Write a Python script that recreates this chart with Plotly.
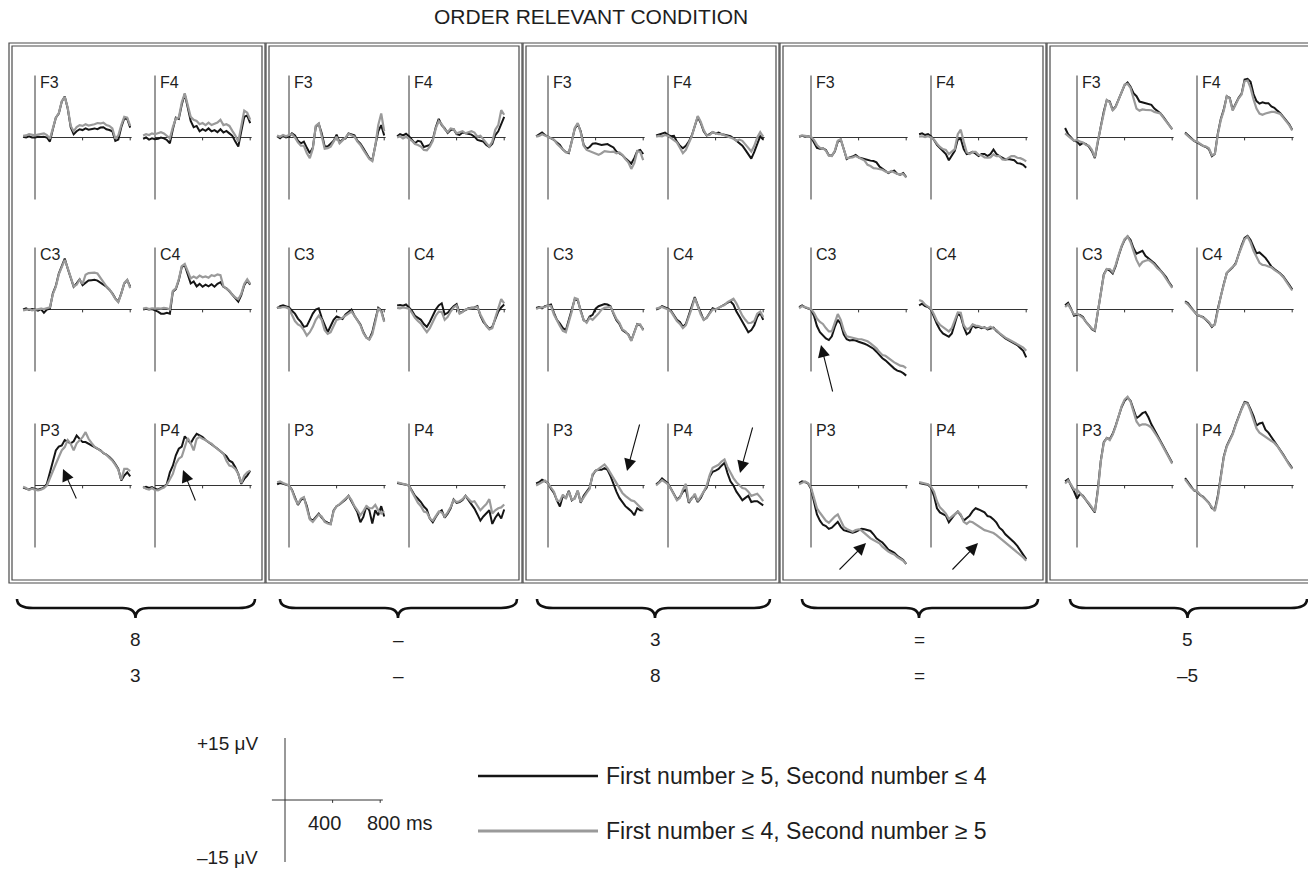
import plotly.graph_objects as go

# ---------------- data (µV) ----------------
TIMES = [-100, -75, -50, -25, 0, 25, 50, 75, 100, 125, 150, 175, 200, 225, 250, 275, 300,
         325, 350, 375, 400, 425, 450, 475, 500, 525, 550, 575, 600, 625, 650, 675, 700,
         725, 750, 775, 800]

ELECTRODES = [["F3", "F4"], ["C3", "C4"], ["P3", "P4"]]
COND_TOP = ["8", "\u2013", "3", "=", "5"]
COND_BOTTOM = ["3", "\u2013", "8", "=", "\u20135"]
TITLE = "ORDER RELEVANT CONDITION"
LEGEND_BLACK = "First number \u2265 5, Second number \u2264 4"
LEGEND_GRAY = "First number \u2264 4, Second number \u2265 5"

# panel 1 : 8 / 3
P1_F3_BLACK = [0.2, 0.0, 0.3, 0.0, 0.0, 0.2, 0.1, 0.2, 0.0, -1.0, 2.0, 4.8, 5.8, 8.7, 9.9, 7.0, 2.5, 0.8, 1.5, 2.0, 1.8, 2.2, 1.9, 2.0, 2.2, 2.0, 2.4, 2.5, 2.0, 1.8, 1.5, -0.8, -0.5, 2.5, 4.6, 4.5, 2.4]
P1_F3_GRAY = [0.4, 0.5, 0.8, 0.6, 0.5, 0.7, 0.8, 1.0, 0.6, -0.3, 2.2, 4.8, 5.9, 8.8, 9.8, 7.2, 2.8, 1.5, 2.5, 3.0, 2.8, 3.2, 2.9, 3.0, 3.2, 3.5, 3.4, 3.6, 3.0, 2.8, 2.2, -0.3, 0.5, 3.0, 5.0, 4.8, 2.8]
P1_F4_BLACK = [-0.3, 0.0, -0.5, -0.2, -0.4, -0.3, 0.0, -0.2, -0.6, -1.4, 2.0, 4.8, 4.5, 8.0, 10.5, 7.0, 4.0, 2.5, 2.8, 1.5, 2.0, 1.6, 2.2, 1.5, 1.8, 1.3, 2.0, 1.2, 1.6, 1.0, 0.4, -1.0, -2.2, 1.5, 5.0, 5.3, 3.5]
P1_F4_GRAY = [0.5, 0.8, 0.6, 1.0, 0.8, 1.0, 1.3, 1.0, 0.5, -0.2, 2.5, 4.6, 4.8, 8.5, 10.7, 7.5, 5.0, 4.3, 4.0, 3.2, 3.5, 3.0, 3.6, 3.0, 3.3, 3.6, 4.3, 3.0, 3.2, 2.8, 1.6, 0.5, -1.0, 2.5, 6.5, 6.0, 4.3]
P1_C3_BLACK = [0.0, 0.3, -0.1, 0.1, 0.0, -0.3, 0.1, -0.8, 0.0, 0.2, 3.9, 5.7, 8.7, 10.7, 12.3, 9.9, 7.5, 5.5, 6.3, 7.3, 5.9, 6.5, 7.0, 7.1, 7.2, 7.0, 6.5, 6.1, 5.5, 4.8, 3.9, 2.7, 1.9, 3.9, 6.3, 7.1, 5.5]
P1_C3_GRAY = [-0.2, -0.1, 0.1, -0.2, -0.1, 0.0, 0.2, 0.1, 0.3, 0.5, 3.7, 5.5, 8.5, 10.5, 12.0, 10.0, 7.6, 5.6, 6.0, 7.2, 6.2, 8.4, 8.8, 8.9, 8.9, 8.7, 7.5, 6.6, 5.6, 4.9, 3.8, 2.6, 1.8, 3.8, 6.4, 7.2, 5.2]
P1_C4_BLACK = [0.0, 0.2, 0.0, 0.1, -0.2, -0.5, -1.0, -1.0, -0.8, -1.0, 4.3, 4.9, 7.1, 10.3, 10.7, 8.7, 6.3, 6.8, 5.6, 6.2, 5.5, 6.0, 5.6, 6.1, 5.5, 6.2, 6.6, 5.5, 5.1, 4.4, 3.5, 2.7, 1.9, 3.5, 5.9, 7.0, 6.0]
P1_C4_GRAY = [0.2, 0.4, 0.1, 0.3, 0.2, 0.3, 0.2, 0.4, 0.3, 0.0, 4.5, 5.1, 7.3, 10.5, 11.0, 9.0, 7.5, 8.0, 7.6, 8.2, 7.8, 8.0, 7.7, 8.3, 8.1, 8.5, 8.3, 5.6, 5.1, 4.5, 3.6, 2.9, 2.5, 3.8, 6.2, 7.3, 6.2]
P1_P3_BLACK = [-0.5, -0.8, -1.0, -0.6, -0.8, -1.0, -0.8, -0.5, 0.4, 3.2, 5.6, 8.5, 9.4, 9.7, 11.0, 10.5, 10.2, 10.7, 12.1, 11.3, 10.5, 10.5, 10.1, 9.8, 9.4, 8.9, 8.5, 7.8, 7.5, 6.9, 6.2, 5.2, 4.0, 1.2, 2.4, 3.2, 2.2]
P1_P3_GRAY = [-0.3, -0.6, -1.1, -0.8, -1.0, -1.2, -1.0, -0.7, 0.0, 1.6, 3.2, 5.2, 6.9, 8.5, 9.3, 11.0, 10.1, 8.5, 10.2, 11.0, 11.7, 12.9, 11.3, 10.3, 9.4, 8.9, 8.5, 7.9, 7.4, 6.8, 6.0, 5.0, 3.8, 1.4, 4.0, 4.0, 3.5]
P1_P4_BLACK = [-0.5, -0.3, -0.6, -0.4, -0.8, -1.0, -0.6, -0.3, 0.4, 3.2, 4.8, 7.3, 8.9, 9.4, 11.9, 11.0, 10.2, 11.5, 12.5, 12.1, 11.7, 11.0, 10.5, 10.1, 9.4, 8.9, 8.3, 7.7, 7.1, 6.0, 5.6, 4.4, 2.8, 0.4, 1.6, 2.4, 3.6]
P1_P4_GRAY = [-0.3, -0.8, -1.0, -0.6, -1.1, -1.2, -0.8, -0.5, 0.2, 1.6, 2.8, 5.2, 6.5, 7.0, 9.3, 11.5, 10.2, 8.5, 11.3, 11.8, 11.3, 11.0, 10.5, 10.1, 9.4, 8.9, 8.3, 7.7, 6.0, 4.8, 4.6, 4.0, 2.8, 0.6, 2.4, 3.2, 3.6]

# panel 2 : - / -
P2_F3_BLACK = [0.3, -0.2, 0.4, 0.0, 0.2, 1.0, 0.5, -0.8, -1.4, -1.0, -2.5, -3.8, -2.5, 2.6, 3.3, 1.0, -2.2, -2.2, -1.5, -0.8, 0.7, -1.2, -0.5, -0.2, 1.0, 0.8, 0.5, -0.8, -1.5, -2.6, -3.8, -5.0, -5.5, -1.5, 1.5, 3.0, 0.5]
P2_F3_GRAY = [0.5, 0.2, 0.6, 0.3, 0.6, 0.8, 0.0, -1.2, -2.0, -2.0, -3.8, -5.0, -2.7, 2.8, 3.4, 0.5, -2.7, -2.6, -2.2, -1.0, 0.2, -1.4, -0.8, 0.0, 0.9, 0.6, 0.2, -1.0, -1.8, -3.0, -4.0, -5.2, -5.7, -2.0, 3.0, 5.8, 1.5]
P2_F4_BLACK = [0.3, 0.8, 0.5, 0.9, 0.3, -0.5, -1.4, -0.8, -1.0, -2.3, -2.0, -1.8, -0.5, 2.5, 4.5, 3.0, 2.2, 1.1, 1.8, 2.0, 0.8, 0.6, 1.2, 1.0, 0.8, 0.7, 0.2, -0.6, -0.8, -1.0, -1.8, -2.3, -1.5, 0.6, 1.5, 3.5, 5.0]
P2_F4_GRAY = [0.0, 0.3, -0.2, 0.2, -0.3, -0.8, -1.6, -1.8, -2.2, -3.0, -3.1, -2.2, -0.8, 2.2, 4.0, 3.2, 2.0, 1.3, 2.2, 2.0, 1.0, 1.2, 1.5, 1.0, 1.3, 1.5, 1.2, 0.2, 0.4, -0.5, -1.5, -2.2, -1.0, 1.9, 3.0, 6.6, 5.5]
P2_C3_BLACK = [0.3, 0.8, 1.0, 0.8, 0.5, -0.3, -1.0, -2.2, -3.0, -4.2, -4.0, -2.5, -1.0, 0.0, 0.3, -2.0, -4.0, -5.5, -4.0, -2.5, -1.7, -2.0, -2.3, -1.2, -0.5, 0.0, -1.5, -2.5, -3.6, -5.5, -6.8, -7.2, -5.5, -2.5, 0.4, -0.2, -2.8]
P2_C3_GRAY = [0.5, 0.4, 0.6, 0.5, 0.2, -1.5, -2.8, -3.6, -4.0, -5.0, -6.3, -5.5, -4.2, -2.5, -1.5, -2.5, -5.0, -5.9, -5.5, -4.0, -2.5, -2.3, -2.0, -1.5, -1.0, -0.5, -1.5, -2.5, -3.8, -5.7, -6.8, -7.3, -6.0, -3.0, 0.3, -0.5, -3.0]
P2_C4_BLACK = [1.0, 1.1, 0.9, 1.2, 0.5, -0.3, -1.5, -2.0, -2.5, -3.5, -4.2, -3.0, -1.5, 0.0, 1.0, 1.5, -1.2, -0.8, 0.0, 0.8, 1.3, -0.8, -0.5, 0.0, 0.3, 0.4, 0.5, 0.8, -1.5, -3.0, -4.0, -4.7, -4.2, -2.5, -0.5, 0.5, 1.2]
P2_C4_GRAY = [0.4, 0.3, 0.5, 0.4, 0.2, -0.8, -2.0, -2.8, -3.4, -4.5, -5.5, -4.5, -2.8, -1.5, -0.5, -0.6, -2.5, -1.8, -0.5, 0.5, 1.0, -1.0, -0.6, 0.0, 0.2, 0.3, 0.5, 0.6, -1.2, -2.8, -4.0, -4.8, -4.5, -2.0, 0.5, 2.5, 1.5]
P2_P3_BLACK = [0.3, 0.6, 0.4, 0.2, 0.0, -1.0, -3.0, -4.7, -3.5, -3.0, -5.0, -8.0, -8.5, -7.6, -6.8, -7.8, -8.6, -9.0, -9.3, -6.0, -5.0, -4.6, -4.0, -3.4, -2.5, -3.8, -5.2, -6.5, -8.9, -7.6, -5.0, -6.0, -9.2, -6.0, -7.2, -5.0, -7.5]
P2_P3_GRAY = [0.8, 1.0, 0.6, 0.3, 0.0, -1.2, -3.2, -4.5, -3.2, -2.8, -5.2, -8.2, -8.8, -7.8, -7.0, -7.5, -8.8, -9.2, -9.4, -6.2, -5.0, -4.5, -3.8, -3.0, -2.5, -3.5, -5.0, -6.0, -7.2, -6.2, -5.0, -5.5, -5.5, -4.7, -6.0, -6.8, -6.2]
P2_P4_BLACK = [0.6, 0.5, 0.4, 0.2, 0.0, -1.2, -2.5, -3.2, -4.0, -5.1, -5.8, -8.0, -8.9, -7.6, -6.5, -6.0, -7.8, -6.8, -5.5, -3.4, -4.2, -4.0, -3.5, -2.5, -3.5, -4.5, -5.6, -7.0, -8.5, -7.5, -6.7, -6.0, -9.3, -7.8, -6.8, -8.0, -5.8]
P2_P4_GRAY = [0.8, 0.6, 0.5, 0.3, 0.0, -1.5, -3.0, -4.2, -5.0, -6.3, -6.5, -8.0, -8.5, -7.5, -6.3, -6.5, -7.5, -6.5, -5.2, -3.5, -4.0, -3.8, -3.3, -2.5, -3.2, -4.0, -3.8, -4.8, -6.0, -5.2, -4.5, -3.3, -6.8, -6.0, -5.5, -5.3, -4.6]

# panel 3 : 3 / 8
P3_F3_BLACK = [0.3, 0.8, 1.2, 0.6, 0.2, 0.0, -0.6, -1.2, -1.8, -2.9, -3.5, -3.8, -0.8, 2.1, 3.3, 1.5, -1.8, -2.7, -2.3, -1.5, -1.4, -1.6, -1.8, -1.7, -1.6, -2.0, -2.4, -3.4, -3.8, -4.3, -5.0, -5.6, -6.3, -5.0, -3.3, -3.0, -4.0]
P3_F3_GRAY = [0.2, 0.4, 0.8, 0.5, 0.2, -0.2, -0.5, -1.5, -2.2, -3.0, -3.6, -3.6, -1.0, 2.3, 3.5, 1.2, -2.0, -3.0, -3.3, -3.6, -3.9, -4.2, -3.8, -3.3, -3.4, -3.5, -3.4, -3.8, -3.6, -4.2, -5.2, -6.0, -7.6, -6.2, -3.3, -3.5, -5.5]
P3_F4_BLACK = [0.5, 0.7, 0.9, 1.2, 0.6, 0.3, 0.4, -1.0, -2.0, -2.6, -2.0, -1.0, 0.5, 2.5, 5.0, 3.5, 1.5, 0.5, 0.8, 1.3, 1.0, 1.2, 0.8, 0.7, 0.5, 0.3, -0.2, -0.8, -1.3, -2.0, -3.0, -4.0, -5.1, -3.5, -1.5, 0.3, -0.5]
P3_F4_GRAY = [0.2, 0.4, 0.3, 0.6, 0.4, -0.2, -0.6, -1.2, -2.5, -3.8, -3.0, -1.3, 0.3, 2.8, 5.2, 3.8, 1.8, 0.5, 0.6, 1.3, 1.1, 0.8, 0.8, 0.5, 0.2, 0.0, -0.3, -0.8, -0.5, -0.8, -1.8, -2.5, -3.4, -2.0, 0.0, 1.3, 0.2]
P3_C3_BLACK = [0.4, 0.6, 0.3, 0.8, 1.0, 1.2, -0.8, -2.5, -3.4, -4.5, -5.0, -2.5, -0.3, 2.5, 2.2, -0.5, -2.6, -3.0, -1.7, -1.3, 0.2, 0.8, 1.1, 1.3, 1.2, 0.8, -1.0, -2.6, -3.5, -5.0, -5.5, -6.0, -7.5, -5.5, -3.5, -3.8, -4.8]
P3_C3_GRAY = [0.1, 0.4, 0.5, 0.6, 1.0, 0.8, -1.2, -2.8, -4.0, -5.2, -5.5, -3.0, -0.5, 2.8, 2.5, -0.5, -2.5, -3.2, -2.0, -2.5, -1.8, -1.0, 0.0, 0.4, 0.5, 0.6, -0.8, -2.3, -3.2, -4.8, -5.3, -6.2, -7.6, -5.6, -3.6, -3.6, -5.1]
P3_C4_BLACK = [0.0, 0.3, 0.8, 0.5, 0.2, -0.3, -1.5, -2.5, -3.0, -4.2, -3.5, -1.5, 0.5, 3.0, 1.0, -1.0, -2.5, -2.0, -0.8, 0.3, 0.0, 0.4, 0.8, 1.0, 1.6, 2.0, 1.2, -0.5, -1.7, -3.0, -4.2, -5.5, -5.0, -3.8, -1.8, -0.8, -2.5]
P3_C4_GRAY = [0.2, 0.4, 0.6, 0.3, 0.0, -0.5, -1.8, -2.8, -3.5, -4.5, -3.8, -1.8, 0.3, 2.8, 0.8, -1.2, -2.5, -2.0, -1.0, 0.0, 0.0, 0.5, 0.8, 1.1, 1.8, 2.2, 2.6, 1.5, 0.0, -1.5, -2.5, -3.3, -3.2, -2.8, -1.0, -0.5, -1.8]
P3_P3_BLACK = [0.5, 0.8, 1.4, 1.0, 0.6, -0.8, -1.8, -3.6, -5.1, -2.5, -3.0, -1.3, -3.6, -3.0, -1.3, -4.2, -2.5, -1.5, -0.5, 2.5, 3.6, 3.8, 3.8, 4.2, 3.8, 2.3, 0.2, -1.5, -3.0, -4.0, -5.0, -5.6, -6.2, -7.2, -5.5, -6.0, -6.0]
P3_P3_GRAY = [0.0, 0.4, 1.0, 1.2, 0.5, -0.5, -1.5, -3.6, -3.8, -2.2, -3.2, -1.5, -3.4, -3.2, -1.2, -4.0, -2.8, -1.8, -0.8, 2.8, 3.5, 4.0, 4.5, 5.1, 4.2, 3.0, 1.8, 0.5, -0.5, -1.8, -2.5, -3.0, -3.6, -3.8, -4.5, -5.3, -6.0]
P3_P4_BLACK = [0.3, 0.8, 1.7, 1.0, 0.5, -0.8, -2.2, -3.4, -2.8, -1.5, -1.0, -4.2, -3.0, -2.4, -4.0, -3.0, -1.5, -0.5, 2.1, 3.3, 3.6, 4.0, 4.8, 5.5, 3.0, 1.0, 0.0, -1.5, -2.5, -3.6, -3.0, -2.5, -4.0, -3.8, -3.8, -4.2, -4.8]
P3_P4_GRAY = [0.0, 0.6, 1.3, 0.8, 0.3, -0.8, -2.2, -3.6, -3.0, -1.0, 0.4, -4.0, -3.2, -2.0, -3.8, -2.8, -1.5, 0.0, 2.5, 4.3, 4.6, 5.0, 5.8, 6.3, 4.5, 3.0, 1.8, 0.8, 0.0, -0.6, -0.8, -1.5, -2.5, -2.2, -2.0, -2.8, -3.8]

# panel 4 : = / =
P4_F3_BLACK = [0.2, 0.4, 0.2, 0.3, 0.1, -1.3, -2.5, -2.7, -2.6, -3.0, -4.3, -4.4, -3.4, -1.0, -0.5, -2.8, -5.2, -4.8, -4.6, -4.2, -4.8, -5.0, -5.2, -5.5, -5.6, -5.7, -6.0, -7.0, -7.5, -7.9, -8.6, -8.2, -8.0, -8.8, -9.0, -8.6, -9.6]
P4_F3_GRAY = [0.3, 0.5, 0.4, 0.3, 0.2, -0.6, -1.8, -2.5, -2.6, -3.2, -4.4, -4.5, -3.2, -0.8, -0.4, -2.8, -5.0, -4.9, -4.8, -4.5, -4.8, -5.2, -5.6, -6.6, -6.9, -7.4, -7.5, -7.6, -7.8, -8.2, -8.5, -8.1, -8.4, -8.8, -8.9, -8.8, -9.7]
P4_F4_BLACK = [0.8, 1.0, 0.6, 0.8, 0.3, -0.6, -1.8, -2.6, -3.2, -4.0, -5.5, -4.5, -3.2, -0.5, -0.3, -2.8, -4.0, -3.8, -3.5, -3.9, -4.5, -4.0, -4.0, -4.5, -4.0, -2.9, -4.0, -4.5, -5.0, -5.3, -5.2, -5.3, -5.5, -6.2, -6.3, -6.6, -7.3]
P4_F4_GRAY = [0.2, 0.3, 0.1, 0.3, 0.0, -0.5, -1.5, -2.3, -2.8, -3.0, -4.0, -3.5, -2.8, 0.8, 1.9, -1.0, -3.6, -4.0, -3.5, -3.5, -4.2, -4.3, -4.8, -4.9, -4.8, -4.1, -4.5, -4.5, -5.3, -5.4, -5.0, -4.5, -4.5, -4.9, -5.0, -5.3, -5.8]
P4_C3_BLACK = [0.6, 1.0, 0.5, 0.3, 0.0, -1.5, -4.0, -5.5, -6.2, -7.0, -7.4, -6.5, -4.2, -2.5, -3.5, -6.0, -7.2, -7.5, -7.4, -7.5, -7.8, -8.0, -8.3, -8.6, -9.0, -9.5, -10.2, -11.0, -11.8, -12.3, -13.0, -13.8, -14.3, -14.8, -15.0, -15.4, -16.0]
P4_C3_GRAY = [0.3, 0.8, 0.6, 0.4, 0.1, -0.8, -2.2, -3.0, -3.5, -4.5, -5.3, -5.3, -3.0, -1.1, -2.5, -5.0, -6.5, -6.7, -6.8, -7.0, -7.2, -7.2, -7.4, -7.7, -8.2, -8.8, -9.4, -10.3, -11.0, -11.2, -11.8, -12.3, -12.8, -13.2, -13.6, -13.7, -14.2]
P4_C4_BLACK = [1.0, 1.4, 0.8, 0.6, 0.0, -2.0, -3.5, -4.9, -5.8, -6.2, -6.6, -5.8, -3.2, -1.0, -1.6, -4.2, -6.0, -5.5, -3.8, -4.4, -4.2, -4.5, -4.3, -4.8, -4.6, -4.4, -5.2, -5.8, -6.6, -7.0, -7.4, -7.8, -8.2, -8.6, -9.3, -10.0, -11.6]
P4_C4_GRAY = [2.3, 2.0, 1.2, 0.8, 0.2, -1.2, -2.8, -3.7, -4.3, -4.8, -5.3, -4.5, -2.8, -0.7, -0.8, -3.8, -4.8, -4.5, -3.6, -3.9, -4.0, -4.3, -4.4, -4.6, -4.2, -4.6, -5.0, -5.7, -6.3, -6.8, -7.2, -7.6, -7.8, -8.2, -8.8, -9.2, -10.0]
P4_P3_BLACK = [0.6, 1.0, 0.8, 0.5, -0.8, -4.0, -7.0, -8.5, -9.5, -9.8, -10.5, -10.2, -9.6, -8.8, -10.0, -10.8, -11.0, -11.2, -11.4, -11.2, -10.9, -10.5, -10.6, -10.8, -11.0, -11.8, -12.8, -13.3, -13.8, -14.6, -15.5, -15.9, -16.3, -17.0, -17.4, -18.0, -19.0]
P4_P3_GRAY = [0.3, 0.7, 1.0, 0.6, -0.5, -3.0, -5.5, -6.6, -7.5, -8.5, -9.0, -8.2, -7.5, -7.0, -8.5, -10.0, -10.5, -10.8, -11.2, -10.8, -10.6, -10.9, -11.5, -12.3, -12.8, -13.2, -13.6, -14.0, -14.8, -15.5, -16.0, -16.4, -16.7, -17.3, -17.7, -18.2, -19.0]
P4_P4_BLACK = [0.6, 0.4, 0.3, 0.2, -0.5, -2.5, -5.5, -6.5, -7.0, -7.3, -8.9, -7.8, -7.0, -6.3, -7.2, -8.5, -8.0, -7.3, -6.2, -5.5, -5.8, -6.2, -6.5, -7.4, -7.6, -8.2, -9.0, -10.2, -10.8, -11.8, -12.4, -13.0, -13.8, -14.6, -15.7, -16.6, -17.8]
P4_P4_GRAY = [0.8, 0.6, 0.4, 0.3, -0.3, -1.5, -3.8, -5.3, -6.0, -6.8, -8.1, -7.5, -6.8, -6.3, -7.0, -8.8, -9.3, -8.7, -8.9, -9.4, -10.0, -10.3, -10.8, -11.0, -11.2, -11.5, -12.0, -12.6, -13.2, -13.6, -14.2, -14.8, -15.4, -16.2, -16.8, -17.4, -18.2]

# panel 5 : 5 / -5
P5_F3_BLACK = [2.3, 0.8, 0.0, -0.8, -1.0, -1.8, -1.3, -1.6, -2.2, -3.3, -5.0, -0.6, 2.7, 6.3, 9.0, 8.7, 6.7, 7.5, 9.1, 11.1, 12.7, 13.3, 12.3, 10.7, 10.0, 8.7, 8.5, 8.3, 8.1, 7.9, 7.0, 6.5, 5.9, 5.0, 4.0, 3.2, 2.0]
P5_F3_GRAY = [1.0, 0.5, -0.2, -0.8, -0.6, -1.0, -1.2, -1.8, -2.0, -3.0, -4.8, -0.8, 2.5, 6.2, 9.1, 8.5, 6.5, 7.4, 9.0, 11.0, 12.8, 13.0, 12.0, 9.5, 7.0, 6.5, 6.8, 6.7, 6.7, 6.6, 6.2, 6.0, 5.8, 4.8, 3.8, 3.0, 2.0]
P5_F4_BLACK = [1.2, 0.5, -0.2, -0.8, -1.2, -1.7, -2.0, -2.3, -2.8, -4.5, -4.0, 1.0, 4.5, 6.8, 10.0, 9.6, 6.7, 8.2, 9.6, 10.6, 14.0, 14.2, 13.5, 10.5, 8.8, 8.2, 8.5, 8.3, 8.3, 7.5, 7.2, 6.5, 5.9, 5.0, 4.2, 3.2, 1.9]
P5_F4_GRAY = [1.0, 0.3, -0.3, -0.8, -1.0, -1.5, -2.0, -2.2, -2.6, -4.3, -4.0, 0.7, 4.2, 6.5, 10.0, 9.4, 6.5, 8.0, 9.5, 10.4, 13.6, 13.8, 12.0, 9.2, 7.0, 5.8, 5.5, 5.8, 6.0, 6.2, 6.2, 5.9, 5.7, 4.8, 4.0, 3.0, 1.7]
P5_C3_BLACK = [1.0, 1.6, 0.2, -1.5, -1.2, -1.3, -1.8, -3.0, -3.8, -4.8, -5.2, -0.5, 3.8, 8.5, 9.8, 9.4, 8.7, 10.5, 13.0, 15.2, 16.8, 17.7, 16.8, 14.8, 13.5, 13.8, 14.2, 13.0, 12.5, 11.8, 11.2, 10.2, 9.5, 8.7, 7.8, 6.5, 5.5]
P5_C3_GRAY = [0.6, 1.2, 0.0, -1.2, -1.0, -1.4, -2.0, -3.0, -3.8, -4.6, -5.0, -0.8, 3.6, 8.3, 9.8, 9.8, 9.0, 10.8, 13.2, 15.4, 17.0, 17.7, 16.3, 14.0, 12.0, 10.6, 11.5, 11.8, 12.0, 11.5, 10.9, 10.0, 9.4, 8.5, 7.5, 6.3, 5.2]
P5_C4_BLACK = [2.0, 1.5, 0.5, -0.3, -1.3, -1.6, -1.8, -2.5, -3.2, -4.2, -3.5, 0.2, 3.5, 6.2, 8.8, 9.5, 10.2, 11.2, 13.5, 15.5, 17.3, 17.8, 16.8, 15.2, 13.6, 13.8, 13.2, 12.5, 11.5, 10.4, 9.8, 9.3, 8.7, 8.0, 7.1, 6.0, 4.9]
P5_C4_GRAY = [1.8, 1.2, 0.3, -0.5, -1.2, -1.5, -1.9, -2.4, -3.0, -4.0, -3.7, 0.0, 3.2, 6.0, 8.8, 9.6, 10.3, 11.0, 13.3, 15.3, 17.0, 17.6, 16.2, 14.2, 12.8, 11.3, 10.8, 10.7, 10.4, 10.2, 9.6, 9.1, 8.6, 7.8, 6.8, 5.8, 4.6]
P5_P3_BLACK = [1.0, 1.5, 0.0, -1.4, -3.2, -2.0, -2.5, -3.5, -4.5, -5.5, -6.5, -1.0, 6.0, 10.5, 11.5, 11.2, 12.5, 14.5, 17.0, 19.0, 20.5, 21.3, 20.5, 18.5, 16.3, 16.8, 17.5, 17.8, 16.5, 14.8, 13.5, 12.0, 10.8, 9.5, 8.2, 7.0, 5.5]
P5_P3_GRAY = [0.5, 1.2, 0.2, -1.0, -1.0, -1.8, -2.6, -3.6, -4.3, -5.3, -6.3, -1.5, 5.8, 10.3, 11.5, 11.0, 12.3, 14.3, 17.0, 19.2, 20.8, 21.5, 20.3, 18.0, 15.5, 14.5, 14.8, 14.8, 14.5, 14.0, 13.0, 11.8, 10.6, 9.3, 8.0, 6.8, 5.3]
P5_P4_BLACK = [1.8, 0.8, -0.4, -1.2, -1.5, -2.3, -2.7, -3.4, -4.2, -5.5, -5.8, -2.5, 2.8, 7.0, 9.6, 11.2, 12.6, 14.8, 16.8, 18.6, 20.2, 20.0, 18.5, 16.8, 14.5, 15.0, 15.2, 13.5, 12.8, 11.8, 10.8, 9.7, 8.6, 7.5, 6.3, 5.2, 4.2]
P5_P4_GRAY = [1.5, 0.6, -0.5, -1.1, -1.4, -2.2, -2.8, -3.5, -4.3, -5.4, -6.2, -3.0, 2.5, 6.8, 9.4, 11.0, 12.4, 14.6, 16.6, 18.4, 20.0, 19.8, 18.0, 16.0, 13.8, 12.8, 12.3, 11.8, 11.5, 11.0, 10.3, 9.5, 8.5, 7.4, 6.2, 5.0, 4.0]

PANELS = [
    {"F3": (P1_F3_BLACK, P1_F3_GRAY), "F4": (P1_F4_BLACK, P1_F4_GRAY), "C3": (P1_C3_BLACK, P1_C3_GRAY),
     "C4": (P1_C4_BLACK, P1_C4_GRAY), "P3": (P1_P3_BLACK, P1_P3_GRAY), "P4": (P1_P4_BLACK, P1_P4_GRAY)},
    {"F3": (P2_F3_BLACK, P2_F3_GRAY), "F4": (P2_F4_BLACK, P2_F4_GRAY), "C3": (P2_C3_BLACK, P2_C3_GRAY),
     "C4": (P2_C4_BLACK, P2_C4_GRAY), "P3": (P2_P3_BLACK, P2_P3_GRAY), "P4": (P2_P4_BLACK, P2_P4_GRAY)},
    {"F3": (P3_F3_BLACK, P3_F3_GRAY), "F4": (P3_F4_BLACK, P3_F4_GRAY), "C3": (P3_C3_BLACK, P3_C3_GRAY),
     "C4": (P3_C4_BLACK, P3_C4_GRAY), "P3": (P3_P3_BLACK, P3_P3_GRAY), "P4": (P3_P4_BLACK, P3_P4_GRAY)},
    {"F3": (P4_F3_BLACK, P4_F3_GRAY), "F4": (P4_F4_BLACK, P4_F4_GRAY), "C3": (P4_C3_BLACK, P4_C3_GRAY),
     "C4": (P4_C4_BLACK, P4_C4_GRAY), "P3": (P4_P3_BLACK, P4_P3_GRAY), "P4": (P4_P4_BLACK, P4_P4_GRAY)},
    {"F3": (P5_F3_BLACK, P5_F3_GRAY), "F4": (P5_F4_BLACK, P5_F4_GRAY), "C3": (P5_C3_BLACK, P5_C3_GRAY),
     "C4": (P5_C4_BLACK, P5_C4_GRAY), "P3": (P5_P3_BLACK, P5_P3_GRAY), "P4": (P5_P4_BLACK, P5_P4_GRAY)},
]

# ---------------- geometry / style ----------------
W, H = 1308, 871
PX_PER_MS = 0.119
PX_PER_UV = 4.133
BOX_LEFT = [9, 266, 523, 780, 1047, 1313]
BOX_TOP, BOX_BOTTOM = 43, 583
AXIS_X = [35, 289, 548, 811, 1077]
COL_DX = 120
ROW_Y = [137.5, 309.5, 485.5]
SUB_LEFT, SUB_RIGHT, SUB_HALF = 22, 106, 96
AXIS_END_MS = 812
FONT = "Arial, 'Liberation Sans', Helvetica, sans-serif"
TXT = "#1e1e1e"
BLACK = "#151515"
GRAY = "#9a9a9a"
AXC = "#333333"

BRACES = [(17, 255, 135.5), (280, 517, 398), (537, 770, 655), (802, 1038, 919), (1070, 1307, 1187.5)]
ARROWS = [  # (tail_x, tail_y, tip_x, tip_y) in px
    (77, 500, 63, 469), (196, 502, 183, 470),
    (640, 423, 627, 471), (753, 426, 740, 473),
    (833, 393, 821, 345), (838, 571, 866, 543), (951, 571, 978, 543),
]

fig = go.Figure()
layout = dict(width=W, height=H, margin=dict(l=0, r=0, t=0, b=0), autosize=False,
              paper_bgcolor="white", plot_bgcolor="rgba(0,0,0,0)", showlegend=False,
              font=dict(family=FONT, color=TXT))
shapes, annotations = [], []


def names(i):
    s = "" if i == 1 else str(i)
    return "x" + s, "y" + s, "xaxis" + s, "yaxis" + s


def make_axes(i, cx, cy, left, right, half):
    xr, yr, xk, yk = names(i)
    layout[xk] = dict(domain=[(cx - left) / W, (cx + right) / W], range=[-left / PX_PER_MS, right / PX_PER_MS],
                      visible=False, fixedrange=True, anchor=yr)
    layout[yk] = dict(domain=[1 - (cy + half) / H, 1 - (cy - half) / H], range=[-half / PX_PER_UV, half / PX_PER_UV],
                      visible=False, fixedrange=True, anchor=xr)
    return xr, yr


def axis_frame(xr, yr, x_start=0, x_end=AXIS_END_MS):
    ln = dict(color=AXC, width=1)
    shapes.append(dict(type="line", xref=xr, yref=yr, x0=0, x1=0, y0=-15, y1=15, line=ln, layer="below"))
    shapes.append(dict(type="line", xref=xr, yref=yr, x0=x_start, x1=x_end, y0=0, y1=0, line=ln, layer="below"))
    for t in (400, 800):
        shapes.append(dict(type="line", xref=xr, yref=yr, x0=t, x1=t, y0=0, y1=-0.7, line=ln, layer="below"))


idx = 0
for k, panel in enumerate(PANELS):
    for r, row in enumerate(ELECTRODES):
        for c, el in enumerate(row):
            idx += 1
            cx = AXIS_X[k] + COL_DX * c
            cy = ROW_Y[r]
            xr, yr = make_axes(idx, cx, cy, SUB_LEFT, SUB_RIGHT, SUB_HALF)
            axis_frame(xr, yr)
            blk, gry = panel[el]
            fig.add_trace(go.Scatter(x=TIMES, y=blk, xaxis=xr, yaxis=yr, mode="lines",
                                     line=dict(color=BLACK, width=2.0), hoverinfo="skip"))
            fig.add_trace(go.Scatter(x=TIMES, y=gry, xaxis=xr, yaxis=yr, mode="lines",
                                     line=dict(color=GRAY, width=2.2), hoverinfo="skip"))

# scale legend axes
idx += 1
sx, sy = make_axes(idx, 285, 800, 20, 110, 70)
axis_frame(sx, sy, x_start=-110, x_end=822)

# pixel overlay axes
idx += 1
px_x, px_y, pxk, pyk = names(idx)
layout[pxk] = dict(domain=[0, 1], range=[0, W], visible=False, fixedrange=True, anchor=px_y)
layout[pyk] = dict(domain=[0, 1], range=[H, 0], visible=False, fixedrange=True, anchor=px_x)


def pline(x0, y0, x1, y1, color, width):
    shapes.append(dict(type="line", xref=px_x, yref=px_y, x0=x0, y0=y0, x1=x1, y1=y1,
                       line=dict(color=color, width=width)))


def ptext(x, y, text, size, xanchor="center"):
    annotations.append(dict(xref=px_x, yref=px_y, x=x, y=y, text=text, showarrow=False,
                            xanchor=xanchor, yanchor="middle", font=dict(size=size, family=FONT, color=TXT)))


# double-line boxes
for k in range(5):
    L, R = BOX_LEFT[k], BOX_LEFT[k + 1] - 1
    for off in (0, 3):
        shapes.append(dict(type="rect", xref=px_x, yref=px_y, x0=L + off, x1=R - off,
                           y0=BOX_TOP + off, y1=BOX_BOTTOM - off,
                           line=dict(color="#4a4a4a", width=1.2), fillcolor="rgba(0,0,0,0)"))

# electrode labels
for k in range(5):
    for r, row in enumerate(ELECTRODES):
        for c, el in enumerate(row):
            ptext(AXIS_X[k] + COL_DX * c + 3, ROW_Y[r] - 55, el, 16, xanchor="left")

# arrows
for tx, ty, hx, hy in ARROWS:
    annotations.append(dict(xref=px_x, yref=px_y, axref=px_x, ayref=px_y, x=hx, y=hy, ax=tx, ay=ty,
                            text="", showarrow=True, arrowhead=2, arrowsize=2.2, arrowwidth=1.1,
                            arrowcolor="#111"))

# braces
for xa, xb, xc in BRACES:
    y0, y1, y2 = 599, 608, 618
    path = (f"M {xa},{y0} Q {xa},{y1} {xa+16},{y1} L {xc-13},{y1} Q {xc},{y1} {xc},{y2} "
            f"Q {xc},{y1} {xc+13},{y1} L {xb-16},{y1} Q {xb},{y1} {xb},{y0}")
    shapes.append(dict(type="path", xref=px_x, yref=px_y, path=path, line=dict(color="#111", width=2.6)))

# condition labels
for xc_, t1, t2 in zip([b[2] for b in BRACES], COND_TOP, COND_BOTTOM):
    ptext(xc_, 639, t1, 19)
    ptext(xc_, 675, t2, 19)

# title
ptext(591, 16, TITLE, 21)

# scale legend labels
ptext(260, 743, "+15 \u03bcV", 19, xanchor="right")
ptext(260, 857, "\u201315 \u03bcV", 19, xanchor="right")
ptext(324, 823, "400", 20)
ptext(365, 823, "800 ms", 20, xanchor="left")

# line legend
pline(478, 776, 598, 776, BLACK, 2.6)
pline(478, 831, 598, 831, GRAY, 3.0)
ptext(604, 776, LEGEND_BLACK, 23, xanchor="left")
ptext(604, 831, LEGEND_GRAY, 23, xanchor="left")

layout["shapes"] = shapes
layout["annotations"] = annotations
fig.update_layout(**layout)

fig.write_html("out.html", config={"displayModeBar": False, "staticPlot": True},
               post_script="document.body.style.margin='0';document.body.style.overflow='hidden';")
